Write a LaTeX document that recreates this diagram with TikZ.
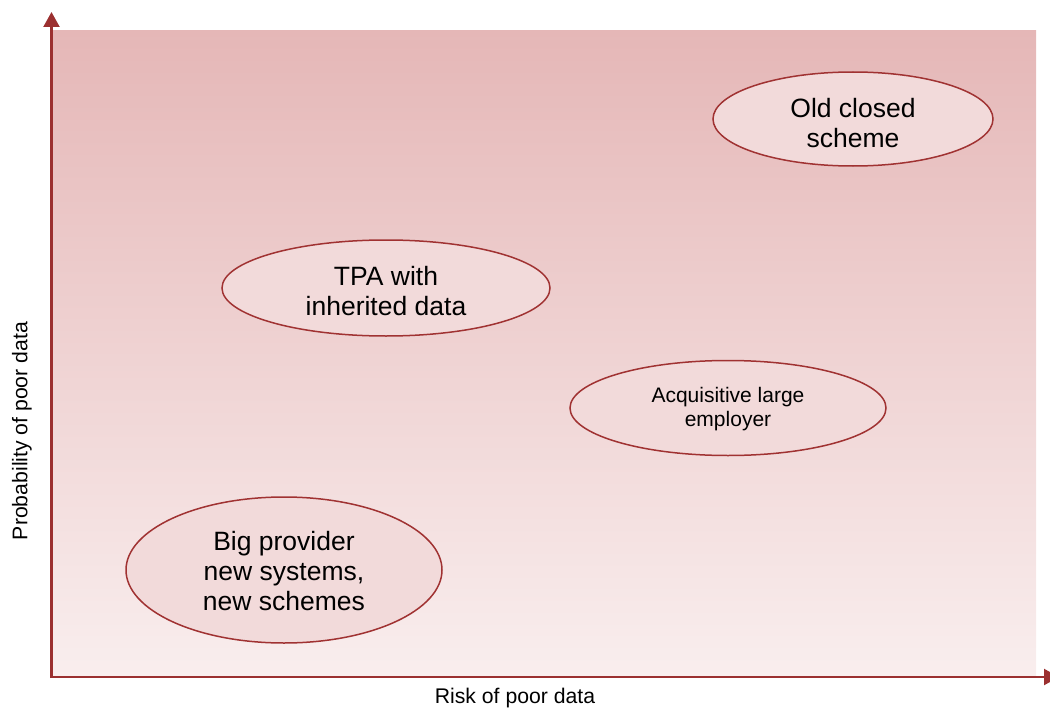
\documentclass[tikz,border=0pt]{standalone}
\usepackage{fontspec}
\setmainfont{Liberation Sans}
\usetikzlibrary{shapes.geometric,arrows.meta}
\definecolor{axisred}{RGB}{155,48,48}
\definecolor{edgered}{RGB}{160,50,50}
\definecolor{ellfill}{RGB}{242,218,218}
\definecolor{bgtop}{RGB}{229,183,183}
\definecolor{bgbot}{RGB}{249,238,238}
\tikzset{
  blob/.style={ellipse, draw=edgered, line width=1.5pt, fill=ellfill, inner sep=0pt},
  blobtext/.style={align=center, text=black, inner sep=0pt},
  bigtext/.style={font=\fontsize{26.5}{30}\selectfont},
  smalltext/.style={font=\fontsize{21}{24}\selectfont},
  axislabel/.style={font=\fontsize{21.2}{24}\selectfont, text=black},
  axisline/.style={draw=axisred, line width=2.2pt, -{Triangle[width=16pt,length=15pt]}}
}
\begin{document}
\begin{tikzpicture}[x=1pt,y=-1pt]
\useasboundingbox (0,0) rectangle (1050,709);
\clip (0,0) rectangle (1050,709);
\shade[top color=bgtop, bottom color=bgbot] (52,31) rectangle (1036,677);
\coordinate (origin) at (51.5,677);
\coordinate (ytip) at (51.5,12);
\coordinate (xtip) at (1059,677);
\draw[axisline] (51.5,678) -- (ytip);
\draw[axisline] (50.5,677) -- (xtip);
\node[blob, minimum width=280pt, minimum height=94pt] (old) at (853,119) {};
\node[blobtext, bigtext] (oldtext) at ([yshift=-4pt]old.center) {Old closed\\scheme};
\node[blob, minimum width=328pt, minimum height=96pt] (tpa) at (386,288) {};
\node[blobtext, bigtext] (tpatext) at ([yshift=-3pt]tpa.center) {TPA with\\inherited data};
\node[blob, minimum width=316pt, minimum height=95pt] (acq) at (728,408) {};
\node[blobtext, smalltext] (acqtext) at ([yshift=-1pt]acq.center) {Acquisitive large\\employer};
\node[blob, minimum width=316pt, minimum height=146pt] (big) at (284,570) {};
\node[blobtext, bigtext] (bigtext) at ([yshift=-1.5pt]big.center) {Big provider\\new systems,\\new schemes};
\node[axislabel] (xlab) at (515,698) {Risk of poor data};
\node[axislabel, rotate=90] (ylab) at (22,431) {Probability of poor data};
\end{tikzpicture}
\end{document}
